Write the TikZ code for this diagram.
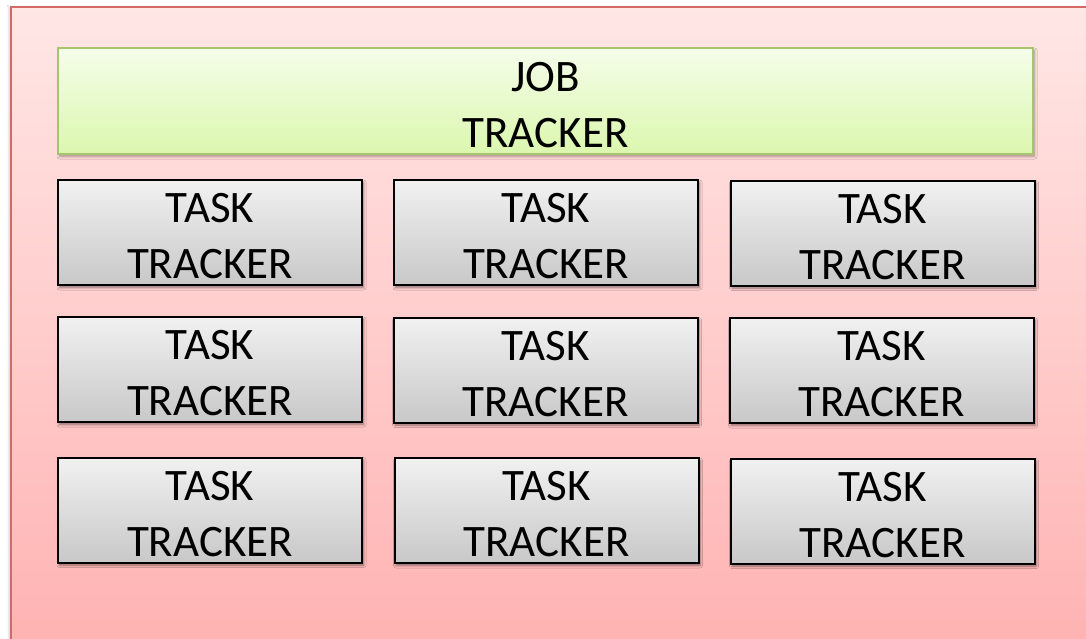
\documentclass[tikz,border=0pt]{standalone}
\usepackage{fontspec}
\setmainfont{Carlito}
\usetikzlibrary{shadows.blur}

\definecolor{frameedge}{HTML}{D46A67}
\definecolor{frametop}{HTML}{FFE7E6}
\definecolor{framebot}{HTML}{FFB2B2}
\definecolor{jobedge}{HTML}{A6C46C}
\definecolor{jobtop}{HTML}{F5FDEA}
\definecolor{jobbot}{HTML}{DBF7AE}
\definecolor{tasktop}{HTML}{F1F1F1}
\definecolor{taskbot}{HTML}{C8C8C8}

\begin{document}
\begin{tikzpicture}[x=1pt, y=-1pt,
  boxtext/.style={font=\fontsize{45}{56}\selectfont, align=center,
    inner sep=0pt, text=black, yshift=-4pt},
  softshadow/.style={blur shadow={shadow xshift=1.5pt, shadow yshift=-2.5pt,
    shadow blur radius=2.5pt, shadow blur steps=6, shadow opacity=#1}},
  jobbox/.style={rectangle, minimum width=975pt, minimum height=106pt,
    inner sep=0pt, line width=2.2pt, draw=jobedge,
    top color=jobtop, bottom color=jobbot, softshadow=35,
    label={[boxtext]center:JOB\\TRACKER}},
  trackerbox/.style={rectangle, minimum width=304pt, minimum height=105pt,
    inner sep=0pt, line width=2pt, draw=black,
    top color=tasktop, bottom color=taskbot, softshadow=45,
    label={[boxtext]center:TASK\\TRACKER}}
]
  % page area
  \clip (0,0) rectangle (1086,638);
  \fill[white] (0,0) rectangle (1086,638);

  % cluster frame running past the right and bottom edges
  \path[blur shadow={shadow xshift=-2pt, shadow yshift=0pt,
      shadow blur radius=2pt, shadow opacity=20},
    top color=frametop, bottom color=framebot,
    draw=frameedge, line width=2.5pt]
    (11,7) rectangle (1100,650);

  % master
  \node[jobbox] (job) at (545.5,101) {};

  % workers, three rows of three
  \node[trackerbox] (t11) at (210,232.5) {};
  \node[trackerbox] (t12) at (546,232.5) {};
  \node[trackerbox] (t13) at (882.5,233) {};

  \node[trackerbox] (t21) at (210,369.5) {};
  \node[trackerbox] (t22) at (545.5,370) {};
  \node[trackerbox] (t23) at (881.5,370.5) {};

  \node[trackerbox] (t31) at (210,510) {};
  \node[trackerbox] (t32) at (546.5,510.5) {};
  \node[trackerbox] (t33) at (882.5,511) {};
\end{tikzpicture}
\end{document}
